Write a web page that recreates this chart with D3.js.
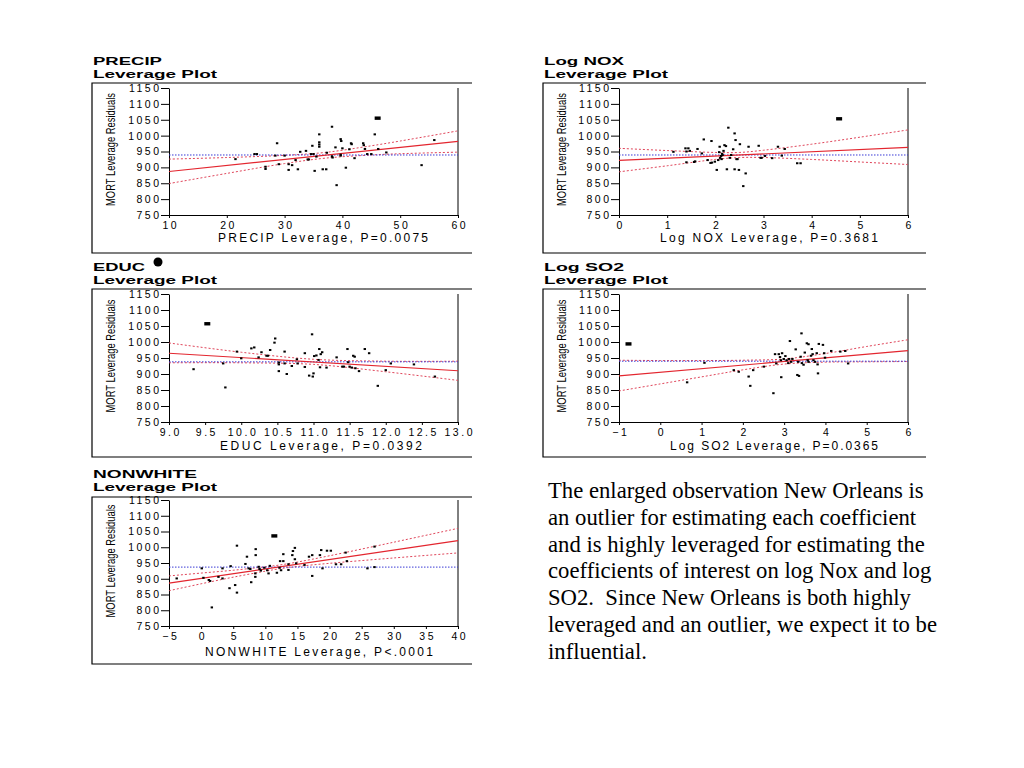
<!DOCTYPE html>
<html><head><meta charset="utf-8">
<script src="https://cdn.jsdelivr.net/npm/d3@7"></script>
<style>body{margin:0;background:#fff} svg{display:block}</style>
</head><body>
<svg id="c" width="1024" height="768"></svg>
<script>
// ---------- tick labels ----------
const yTicks = [750,800,850,900,950,1000,1050,1100,1150];
const precipTicks = [10,20,30,40,50,60];
const noxTicks = [0,1,2,3,4,5,6];
const educTicks = [9.0,9.5,10.0,10.5,11.0,11.5,12.0,12.5,13.0];
const so2Ticks = [-1,0,1,2,3,4,5,6];
const nonwhiteTicks = [-5,0,5,10,15,20,25,30,35,40];

// ---------- PRECIP ----------
const precipX = [21.5,24.8,25.2,26.7,26.7,28.7,28.4,29.0,30.0,30.7,30.7,31.3,31.9,32.3,32.7,33.7,34.0,34.2,34.8,34.6,35.0,35.2,35.5,36.0,36.0,36.0,36.0,36.6,37.2,37.3,38.2,38.2,38.3,38.8,39.0,39.7,39.8,39.7,39.7,40.0,40.6,41.2,41.5,41.6,42.1,43.6,43.7,43.9,44.3,45.0,45.6,46.2,47.6,53.7,55.9];
const precipY = [926,942,942,902,895,976,937,910,937,910,892,907,923,894,949,952,925,925,968,942,942,889,934,1004,979,972,965,894,894,946,1028,935,931,963,844,989,983,937,940,960,899,957,976,973,929,976,970,958,942,942,1004,958,947,907,986];
const precipOutlier = [46.1,1055];
const precipFitX = [10,60], precipFitY = [887,982], precipMean = 939;
const precipBandX = [10,20,30,37,45,50,60];
const precipUpper = [926,931,938,947,968,983,1015];
const precipLower = [849,881,912,929,939,943,948];

// ---------- Log NOX ----------
const noxX = [1.13,1.38,1.44,1.40,1.47,1.40,1.56,1.58,1.63,1.72,1.76,1.84,1.90,1.93,1.92,1.99,2.03,2.06,2.08,2.09,2.10,2.12,2.14,2.13,2.15,2.17,2.19,2.22,2.27,2.24,2.30,2.33,2.37,2.40,2.42,2.40,2.44,2.46,2.49,2.51,2.58,2.63,2.69,2.90,2.94,2.96,3.03,3.18,3.30,3.38,3.44,3.70,3.77];
const noxY = [949,960,960,950,952,916,917,919,958,944,988,923,914,915,983,918,892,923,948,965,930,936,943,926,939,952,970,967,1025,894,930,939,957,1007,986,894,926,926,892,973,841,881,965,968,930,930,936,929,965,937,958,913,913];
const noxOutlier = [4.57,1053];
const noxFitX = [0,6], noxFitY = [922,963], noxMean = 939;
const noxBandX = [0,1,2,2.5,3,4,5,6];
const noxUpper = [960,953,947,947,954,973,995,1018];
const noxLower = [886,905,925,931,931,925,917,909];

// ---------- EDUC ----------
const educX = [9.34,9.75,9.78,9.94,10.00,10.14,10.18,10.24,10.28,10.35,10.37,10.40,10.47,10.46,10.52,10.52,10.52,10.60,10.60,10.63,10.70,10.77,10.78,10.88,10.88,10.94,10.99,10.98,11.00,11.01,11.04,11.07,11.08,11.10,11.12,11.09,11.18,11.32,11.40,11.42,11.47,11.48,11.50,11.53,11.55,11.57,11.58,11.63,11.71,11.77,11.89,12.00,12.07,12.39,12.68];
const educY = [915,933,858,970,949,980,983,952,968,957,957,975,1011,998,936,930,909,970,933,900,925,946,933,965,922,895,892,1024,902,956,958,944,978,962,968,921,920,952,923,923,978,937,923,920,957,954,918,909,978,965,863,912,933,930,892];
const educOutlier = [9.53,1057];
const educFitX = [9,13], educFitY = [965,910], educMean = 938;
const educBandX = [9,10,11,12,13];
const educUpper = [997,968,946,940,940];
const educLower = [935,935,930,907,880];

// ---------- Log SO2 ----------
const so2X = [0.65,1.07,1.78,1.90,2.14,2.18,2.25,2.51,2.74,2.78,2.87,2.81,2.93,2.90,2.95,2.92,2.99,3.03,3.14,3.06,3.10,3.12,3.17,3.20,3.28,3.32,3.36,3.34,3.40,3.42,3.43,3.47,3.50,3.55,3.59,3.57,3.59,3.65,3.69,3.67,3.71,3.75,3.79,3.81,3.82,3.84,3.94,3.97,3.99,4.14,4.36,4.48,4.55];
const so2Y = [874,935,912,907,892,863,912,923,840,962,962,933,890,953,965,943,947,956,1003,943,934,947,938,947,977,897,894,938,954,1027,934,929,967,996,993,943,938,957,962,978,943,938,965,930,902,994,991,965,951,972,970,972,933];
const so2Outlier = [-0.77,994];
const so2FitX = [-1,6], so2FitY = [894,973], so2Mean = 940;
const so2BandX = [-1,0,1,2,3,4,5,6];
const so2Upper = [943,942,942,943,947,964,986,1007];
const so2Lower = [847,869,891,913,931,937,938,939];

// ---------- NONWHITE ----------
const nonwhiteX = [-3.8,0.1,0.36,1.2,1.4,1.67,2.7,3.33,3.33,4.42,4.6,5.3,5.58,5.58,6.9,7.14,7.4,7.66,7.8,8.5,8.5,8.44,8.96,9.1,9.3,8.44,9.84,10.3,10.5,10.7,11.8,12.2,12.45,12.3,12.8,12.8,13.6,13.6,14.2,14.3,14.6,14.6,14.8,16.1,16.8,17.3,17.3,18.5,18.7,18.9,19.6,20.2,21.0,21.8,22.5,22.7,25.9,27.0,27.0];
const nonwhiteY = [901,933,903,896,893,809,906,933,901,870,940,880,1005,856,947,970,933,931,889,994,975,917,938,931,926,906,935,927,917,941,919,935,927,956,956,978,928,946,975,988,998,962,949,944,970,975,909,975,991,933,989,989,946,946,983,956,933,1002,937];
const nonwhiteOutlier = [11.4,1036];
const nonwhiteFitX = [-5,40], nonwhiteFitY = [886,1021], nonwhiteMean = 937;
const nonwhiteBandX = [-5,0,5,10,12,15,20,30,40];
const nonwhiteUpper = [909,918,927,938,943,953,973,1016,1060];
const nonwhiteLower = [862,884,905,924,931,939,949,966,982];

// ---------- text ----------
const noteLines = [
  "The enlarged observation New Orleans is",
  "an outlier for estimating each coefficient",
  "and is highly leveraged for estimating the",
  "coefficients of interest on log Nox and log",
  "SO2.  Since New Orleans is both highly",
  "leveraged and an outlier, we expect it to be",
  "influential."
];

// ---------- layout table built from the arrays ----------
const fInt = d3.format('d'), f1 = d3.format('.1f');
const panels = [
 {title:'PRECIP', tw:69, fx:92, ftop:83, fbot:253, fright:472, px0:169, px1:458, py0:88, py1:215, t2:78,
  ticks:precipTicks, fmt:fInt, xs:precipX, ys:precipY, out:precipOutlier, fitX:precipFitX, fitY:precipFitY,
  mean:precipMean, bx:precipBandX, bu:precipUpper, bl:precipLower, xtitle:'PRECIP Leverage, P=0.0075', xtx:218, xtw:210, xtdy:27},
 {title:'Log NOX', tw:80, fx:543, ftop:83, fbot:253, fright:926, px0:619, px1:908, py0:88, py1:215, t2:78,
  ticks:noxTicks, fmt:fInt, xs:noxX, ys:noxY, out:noxOutlier, fitX:noxFitX, fitY:noxFitY,
  mean:noxMean, bx:noxBandX, bu:noxUpper, bl:noxLower, xtitle:'Log NOX Leverage, P=0.3681', xtx:660, xtw:218, xtdy:27},
 {title:'EDUC', tw:52, fx:92, ftop:289, fbot:457, fright:472, px0:169, px1:458, py0:294, py1:422, t2:284,
  ticks:educTicks, fmt:f1, xs:educX, ys:educY, out:educOutlier, fitX:educFitX, fitY:educFitY,
  mean:educMean, bx:educBandX, bu:educUpper, bl:educLower, xtitle:'EDUC Leverage, P=0.0392', xtx:220, xtw:202, xtdy:28},
 {title:'Log SO2', tw:80, fx:543, ftop:289, fbot:457, fright:926, px0:619, px1:908, py0:294, py1:422, t2:284,
  ticks:so2Ticks, fmt:fInt, xs:so2X, ys:so2Y, out:so2Outlier, fitX:so2FitX, fitY:so2FitY,
  mean:so2Mean, bx:so2BandX, bu:so2Upper, bl:so2Lower, xtitle:'Log SO2 Leverage, P=0.0365', xtx:670, xtw:208, xtdy:28},
 {title:'NONWHITE', tw:104, fx:92, ftop:497, fbot:664, fright:472, px0:169, px1:458, py0:500, py1:626, t2:491,
  ticks:nonwhiteTicks, fmt:fInt, xs:nonwhiteX, ys:nonwhiteY, out:nonwhiteOutlier, fitX:nonwhiteFitX, fitY:nonwhiteFitY,
  mean:nonwhiteMean, bx:nonwhiteBandX, bu:nonwhiteUpper, bl:nonwhiteLower, xtitle:'NONWHITE Leverage, P<.0001', xtx:205, xtw:228, xtdy:30}
];

const SANS = "'Liberation Sans', Arial, Helvetica, sans-serif";
const svg = d3.select('#c');
svg.append('rect').attr('width',1024).attr('height',768).attr('fill','#fff');

const RED = '#e3262f', REDDOT = '#e0455a', BLUE = '#3a3ad6';
const LS = 2.5; // tick label letter spacing

panels.forEach(p => {
  const g = svg.append('g');
  const x = d3.scaleLinear().domain([p.ticks[0], p.ticks[p.ticks.length-1]]).range([p.px0, p.px1]);
  const y = d3.scaleLinear().domain([750,1150]).range([p.py1, p.py0]);

  // frame
  g.append('path').attr('d', `M${p.fright},${p.ftop}H${p.fx}V${p.fbot}H${p.fright}`)
    .attr('fill','none').attr('stroke','#000').attr('stroke-width',1.2);

  // titles
  g.append('text').attr('x', p.fx+1).attr('y', p.t2-13).text(p.title)
    .attr('font-family',SANS).attr('font-weight','bold').attr('font-size','11.5px')
    .attr('textLength',p.tw).attr('lengthAdjust','spacingAndGlyphs');
  g.append('text').attr('x', p.fx+1).attr('y', p.t2).text('Leverage Plot')
    .attr('font-family',SANS).attr('font-weight','bold').attr('font-size','11.5px')
    .attr('textLength',124).attr('lengthAdjust','spacingAndGlyphs');

  // y axis
  const ya = g.append('g').attr('transform',`translate(${p.px0},0)`)
    .call(d3.axisLeft(y).tickValues(yTicks).tickSize(8).tickSizeOuter(0).tickPadding(2).tickFormat(fInt));
  ya.selectAll('text').attr('font-family',SANS).attr('font-size','10.5px').attr('letter-spacing',LS+'px')
    .attr('dx', LS).attr('fill','#000');
  ya.selectAll('line,path').attr('stroke','#000');

  // x axis
  const xa = g.append('g').attr('transform',`translate(0,${p.py1})`)
    .call(d3.axisBottom(x).tickValues(p.ticks).tickSize(3).tickSizeOuter(0).tickPadding(4).tickFormat(p.fmt));
  xa.selectAll('text').attr('font-family',SANS).attr('font-size','10.5px').attr('letter-spacing',LS+'px')
    .attr('dx', LS/2).attr('fill','#000');
  xa.selectAll('line,path').attr('stroke','#000');

  // right border of plot
  g.append('line').attr('x1',p.px1).attr('x2',p.px1).attr('y1',p.py0).attr('y2',p.py1).attr('stroke','#000');

  // axis titles
  g.append('text').attr('x',p.xtx).attr('y',p.py1+p.xtdy).text(p.xtitle)
    .attr('font-family',SANS).attr('font-size','12px')
    .attr('textLength',p.xtw).attr('lengthAdjust','spacing');
  const cy = (p.py0+p.py1)/2 - 2;
  g.append('text').attr('transform',`translate(${p.fx+23},${cy}) rotate(-90)`).attr('text-anchor','middle')
    .text('MORT Leverage Residuals').attr('font-family',SANS).attr('font-size','12px')
    .attr('textLength',113).attr('lengthAdjust','spacingAndGlyphs');

  // confidence curves
  const curve = d3.line().x(d=>x(d[0])).y(d=>y(d[1])).curve(d3.curveCatmullRom.alpha(0.5));
  [p.bu, p.bl].forEach(arr => {
    g.append('path').attr('d', curve(p.bx.map((v,i)=>[v,arr[i]])))
      .attr('fill','none').attr('stroke',REDDOT).attr('stroke-width',1).attr('stroke-dasharray','2,2');
  });
  // mean line
  g.append('line').attr('x1',x.range()[0]).attr('x2',x.range()[1]).attr('y1',y(p.mean)).attr('y2',y(p.mean))
    .attr('stroke',BLUE).attr('stroke-width',1).attr('stroke-dasharray','1.5,1.5');
  // fit line
  g.append('line').attr('x1',x(p.fitX[0])).attr('x2',x(p.fitX[1])).attr('y1',y(p.fitY[0])).attr('y2',y(p.fitY[1]))
    .attr('stroke',RED).attr('stroke-width',1.1);

  // points
  g.selectAll('rect.pt').data(p.xs.map((v,i)=>[v,p.ys[i]])).enter().append('rect').attr('class','pt')
    .attr('x',d=>x(d[0])-1.2).attr('y',d=>y(d[1])-1).attr('width',2.4).attr('height',2).attr('fill','#000');
  g.append('rect').attr('x',x(p.out[0])-3).attr('y',y(p.out[1])-1.7).attr('width',6).attr('height',3.4).attr('fill','#000');
});

// black bullet near EDUC title
svg.append('circle').attr('cx',158).attr('cy',262).attr('r',4.5).attr('fill','#000');

// note text
const note = svg.append('text').attr('font-family',"'Liberation Serif','Times New Roman',serif").attr('font-size','22.7px').attr('fill','#000');
noteLines.forEach((t,i)=>{
  note.append('tspan').attr('x',548).attr('y',498+i*26.8).attr('xml:space','preserve').text(t);
});
</script>
</body></html>
